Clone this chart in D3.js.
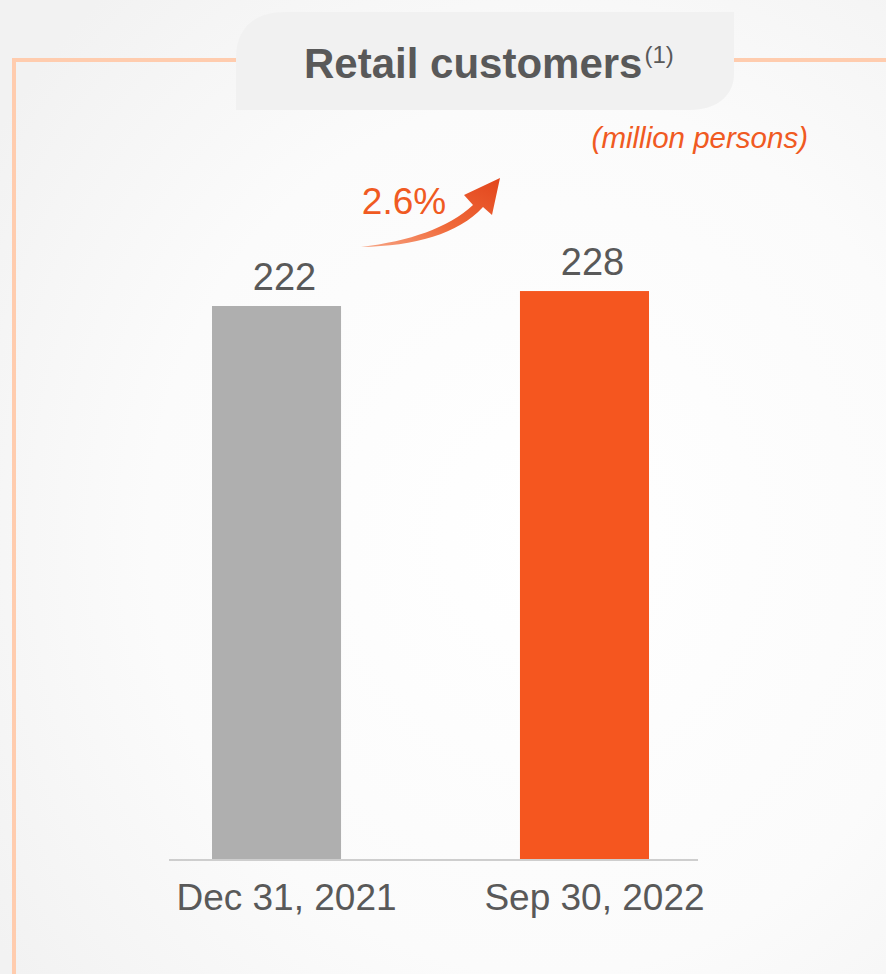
<!DOCTYPE html>
<html>
<head>
<meta charset="utf-8">
<script src="https://cdn.jsdelivr.net/npm/d3@7"></script>
<style>
  html, body { margin: 0; padding: 0; background: #fff; }
  svg { display: block; font-family: "Liberation Sans", Arial, sans-serif; }
</style>
</head>
<body>
<svg id="chart" width="886" height="974"></svg>
<script>
// Retail customers, million persons
const categories = ["Dec 31, 2021", "Sep 30, 2022"];
const values = [222, 228];
const barColors = ["#AFAFAF", "#F5561F"];
const growthLabel = "2.6%";
const titleText = "Retail customers";
const titleNote = "(1)";
const unitText = "(million persons)";

const W = 886, H = 974;
const svg = d3.select("#chart");
const defs = svg.append("defs");

// soft background
const bg = defs.append("radialGradient").attr("id", "bg")
  .attr("cx", "62%").attr("cy", "55%").attr("r", "75%");
bg.append("stop").attr("offset", "0%").attr("stop-color", "#FFFFFF");
bg.append("stop").attr("offset", "60%").attr("stop-color", "#FBFBFB");
bg.append("stop").attr("offset", "100%").attr("stop-color", "#F2F2F2");
svg.append("rect").attr("width", W).attr("height", H).attr("fill", "url(#bg)");

// frame lines
const frameColor = "#FFCCAE";
svg.append("path")
  .attr("d", `M14,${H} L14,60 L${W},60`)
  .attr("fill", "none").attr("stroke", frameColor).attr("stroke-width", 4);

// title tab
svg.append("path")
  .attr("d", "M236,110 L236,58 C236,28 254,12 286,12 L734,12 L734,74 C734,96 716,110 690,110 Z")
  .attr("fill", "#F1F1F1");

const title = svg.append("text")
  .attr("x", 304).attr("y", 78)
  .attr("text-anchor", "start")
  .attr("fill", "#595959")
  .attr("font-weight", "bold")
  .attr("font-size", 42);
title.append("tspan").text(titleText);
title.append("tspan").attr("font-size", 24).attr("font-weight", "normal")
  .attr("dx", 2).attr("dy", -15).text(titleNote);

svg.append("text")
  .attr("x", 808).attr("y", 148)
  .attr("text-anchor", "end")
  .attr("font-style", "italic")
  .attr("font-size", 29.5)
  .attr("fill", "#F05A22")
  .text(unitText);

// scales
const plotBottom = 859;
const x = d3.scaleBand().domain(categories).range([119.6, 741.4]).paddingInner(0.581).paddingOuter(0.3);
const y = d3.scaleLinear().domain([0, 240]).range([plotBottom, plotBottom - 240 * 2.491]);

// bars
svg.selectAll("rect.bar").data(values).join("rect")
  .attr("class", "bar")
  .attr("x", (d, i) => x(categories[i]))
  .attr("width", x.bandwidth())
  .attr("y", d => y(d))
  .attr("height", d => y(0) - y(d))
  .attr("fill", (d, i) => barColors[i]);

// value labels
svg.selectAll("text.val").data(values).join("text")
  .attr("class", "val")
  .attr("x", (d, i) => x(categories[i]) + x.bandwidth() / 2 + 8)
  .attr("y", d => y(d) - 16)
  .attr("text-anchor", "middle")
  .attr("font-size", 38)
  .attr("fill", "#595959")
  .text(d => d);

// baseline axis
const axis = svg.append("g").attr("transform", `translate(0,${plotBottom + 1})`)
  .call(d3.axisBottom(x).tickSize(0).tickPadding(0));
axis.select(".domain").attr("stroke", "#BFBFBF").attr("stroke-width", 1.5)
  .attr("d", "M169,0H698");
axis.selectAll(".tick text")
  .attr("font-size", 37)
  .attr("fill", "#595959")
  .attr("font-family", "Liberation Sans, Arial, sans-serif")
  .attr("dx", 10)
  .attr("y", 50)
  .attr("dy", 0);

// growth arrow
const ag = defs.append("linearGradient").attr("id", "arrowGrad")
  .attr("x1", "0%").attr("y1", "100%").attr("x2", "100%").attr("y2", "0%");
ag.append("stop").attr("offset", "0%").attr("stop-color", "#F7A585");
ag.append("stop").attr("offset", "45%").attr("stop-color", "#F06A3A");
ag.append("stop").attr("offset", "100%").attr("stop-color", "#E2451C");

svg.append("path")
  .attr("d", "M361,247 C410,241 448,228 473,205 L464,195 L500,178 L492,215 L483,207 C458,234 415,246 361,247 Z")
  .attr("fill", "url(#arrowGrad)");

svg.append("text")
  .attr("x", 404).attr("y", 214)
  .attr("text-anchor", "middle")
  .attr("font-size", 37)
  .attr("fill", "#F05A22")
  .text(growthLabel);
</script>
</body>
</html>
